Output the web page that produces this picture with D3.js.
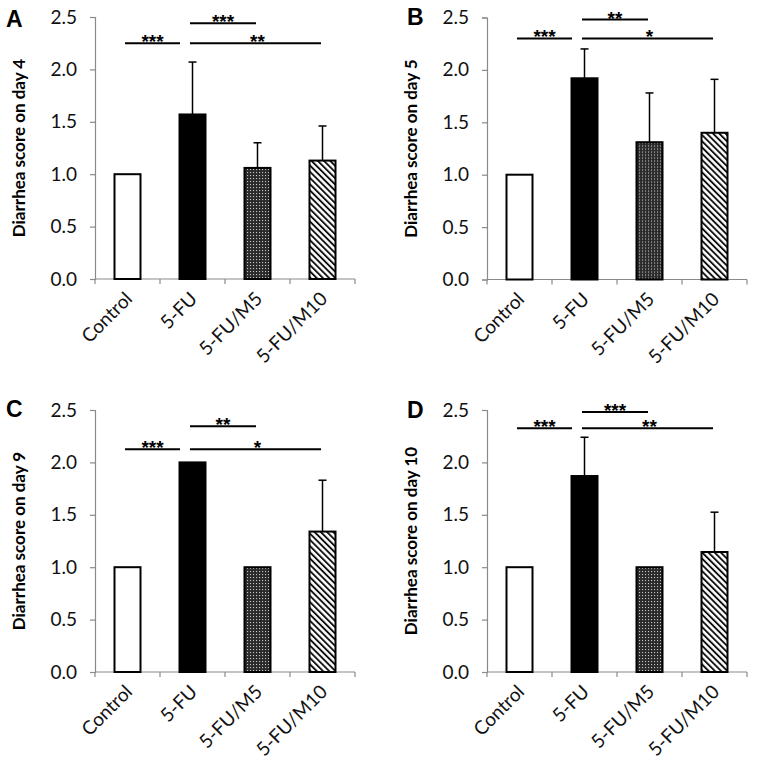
<!DOCTYPE html>
<html><head><meta charset="utf-8">
<script src="https://cdn.jsdelivr.net/npm/d3@7"></script>
<style>body{margin:0;background:#fff}svg{display:block}</style>
</head><body>
<script>
const categories = ["Control", "5-FU", "5-FU/M5", "5-FU/M10"];
const panelLetters = ["A", "B", "C", "D"];
const days = [4, 5, 9, 10];
const yTicks = [0, 0.5, 1.0, 1.5, 2.0, 2.5];
const meansA = [1.0, 1.57, 1.06, 1.13];
const meansB = [1.0, 1.92, 1.31, 1.40];
const meansC = [1.0, 2.0, 1.0, 1.34];
const meansD = [1.0, 1.87, 1.0, 1.145];
const sdA = [0, 0.50, 0.24, 0.33];
const sdB = [0, 0.28, 0.47, 0.51];
const sdC = [0, 0, 0, 0.49];
const sdD = [0, 0.37, 0, 0.38];
// significance brackets: [fromIndex, toIndex, yValue, stars]
const sigA = [[0, 1, 2.25, "***"], [1, 2, 2.44, "***"], [1, 3, 2.25, "**"]];
const sigB = [[0, 1, 2.30, "***"], [1, 2, 2.48, "**"], [1, 3, 2.30, "*"]];
const sigC = [[0, 1, 2.125, "***"], [1, 2, 2.345, "**"], [1, 3, 2.125, "*"]];
const sigD = [[0, 1, 2.325, "***"], [1, 2, 2.48, "***"], [1, 3, 2.325, "**"]];

const means = [meansA, meansB, meansC, meansD];
const sds = [sdA, sdB, sdC, sdD];
const sigs = [sigA, sigB, sigC, sigD];

const W = 767, H = 762;
const svg = d3.select("body").append("svg").attr("width", W).attr("height", H);

const defs = svg.append("defs");
const dots = defs.append("pattern").attr("id", "dots").attr("patternUnits", "userSpaceOnUse")
  .attr("width", 3).attr("height", 3);
dots.append("rect").attr("width", 3).attr("height", 3).attr("fill", "#2a2a2a");
dots.append("rect").attr("x", 1).attr("y", 1).attr("width", 1.1).attr("height", 1.1).attr("fill", "#c4c4c4");
const stripes = defs.append("pattern").attr("id", "stripes").attr("patternUnits", "userSpaceOnUse")
  .attr("width", 4.4).attr("height", 4.4).attr("patternTransform", "rotate(-45)");
stripes.append("rect").attr("width", 4.4).attr("height", 4.4).attr("fill", "#fff");
stripes.append("rect").attr("x", 0).attr("width", 1.9).attr("height", 4.4).attr("fill", "#111");

const fills = ["#ffffff", "#000000", "url(#dots)", "url(#stripes)"];

const offsets = [[0, 0], [392, 0.5], [0, 393], [392, 393]];
const axisLeft = 95, axisTop = 17, plotW = 260, plotH = 262;
const letterPos = [[6, 27], [407, 25], [6, 417], [407, 418]];

const font = "Lato, 'Open Sans', sans-serif";

for (let p = 0; p < 4; p++) {
  const g = svg.append("g").attr("transform", `translate(${offsets[p][0]},${offsets[p][1]})`);
  const x = d3.scaleBand().domain(categories).range([axisLeft, axisLeft + plotW])
    .paddingInner(0.6).paddingOuter(0.3);
  const y = d3.scaleLinear().domain([0, 2.5]).range([axisTop + plotH, axisTop]);
  const step = x.step();
  const cx = c => x(c) + x.bandwidth() / 2;

  // y axis
  const ya = g.append("g").attr("transform", `translate(${axisLeft},0)`)
    .call(d3.axisLeft(y).tickValues(yTicks).tickFormat(d3.format(".1f")).tickSize(5).tickPadding(13));
  ya.select(".domain").attr("stroke", "#8a8a8a").attr("stroke-width", 1.2);
  ya.selectAll(".tick line").attr("stroke", "#8a8a8a").attr("stroke-width", 1.2);
  ya.selectAll(".tick text").attr("font-family", font).attr("font-size", 19).attr("fill", "#111");

  // x axis
  const xa = g.append("g").attr("transform", `translate(0,${y(0)})`)
    .call(d3.axisBottom(x).tickSize(0).tickPadding(0));
  xa.select(".domain").attr("stroke", "#8a8a8a").attr("stroke-width", 1.2).attr("d", `M${axisLeft},0H${axisLeft + plotW}`);
  xa.selectAll(".tick text").attr("font-family", font).attr("font-size", 19).attr("fill", "#111")
    .attr("text-anchor", "end").attr("dy", 0)
    .attr("transform", "translate(6,21) rotate(-45)");
  const bounds = d3.range(categories.length + 1).map(i => axisLeft + i * step);
  xa.selectAll(".btick").data(bounds).enter().append("line").attr("class", "btick")
    .attr("x1", d => d).attr("x2", d => d).attr("y1", 0).attr("y2", 5)
    .attr("stroke", "#8a8a8a").attr("stroke-width", 1.2);

  // error bars
  const eb = g.append("g");
  categories.forEach((c, i) => {
    if (sds[p][i] > 0) {
      eb.append("line").attr("x1", cx(c)).attr("x2", cx(c))
        .attr("y1", y(means[p][i])).attr("y2", y(means[p][i] + sds[p][i]))
        .attr("stroke", "#000").attr("stroke-width", 1.5);
      eb.append("line").attr("x1", cx(c) - 4).attr("x2", cx(c) + 4)
        .attr("y1", y(means[p][i] + sds[p][i])).attr("y2", y(means[p][i] + sds[p][i]))
        .attr("stroke", "#000").attr("stroke-width", 1.5);
    }
  });

  // bars
  g.selectAll(".bar").data(categories).enter().append("rect").attr("class", "bar")
    .attr("x", c => x(c)).attr("width", x.bandwidth())
    .attr("y", (c, i) => y(means[p][i])).attr("height", (c, i) => y(0) - y(means[p][i]))
    .attr("fill", (c, i) => fills[i]).attr("stroke", "#000").attr("stroke-width", 2);

  // significance
  sigs[p].forEach(([a, b, v, s], k) => {
    const x1 = cx(categories[a]) - 2.5;
    const x2 = b === 1 ? cx(categories[b]) - 12.5 : cx(categories[b]) - 1.5;
    g.append("line").attr("x1", x1).attr("x2", x2).attr("y1", y(v)).attr("y2", y(v))
      .attr("stroke", "#000").attr("stroke-width", 2);
    const lx = k === 2 ? cx(categories[2]) : (x1 + x2) / 2;
    g.append("text").attr("x", lx).attr("y", y(v) + 5).attr("text-anchor", "middle")
      .attr("font-family", "'Liberation Sans', Arial, sans-serif").attr("font-weight", "bold")
      .attr("font-size", 19).attr("fill", "#000").text(s);
  });

  // y title
  g.append("text").attr("transform", `translate(${axisLeft - 76},${y(1.25)}) rotate(-90)`)
    .attr("text-anchor", "middle").attr("dy", "0.35em")
    .attr("font-family", font).attr("font-weight", "bold").attr("font-size", 17).attr("fill", "#000")
    .text(`Diarrhea score on day ${days[p]}`);

  // panel letter
  svg.append("text").attr("x", letterPos[p][0]).attr("y", letterPos[p][1])
    .attr("font-family", "'Liberation Sans', Arial, sans-serif").attr("font-weight", "bold")
    .attr("font-size", 23).attr("fill", "#000").text(panelLetters[p]);
}
</script>
</body></html>
